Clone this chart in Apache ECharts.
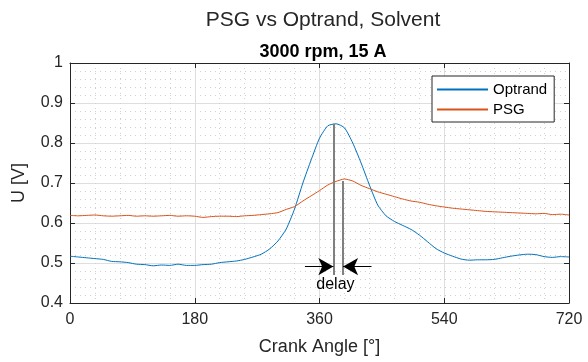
<!DOCTYPE html>
<html>
<head>
<meta charset="utf-8">
<script src="https://cdn.jsdelivr.net/npm/echarts@6/dist/echarts.min.js"></script>
<style>
  html, body { margin: 0; padding: 0; background: #fff; }
  #chart { width: 588px; height: 362px; }
</style>
</head>
<body>
<div id="chart"></div>
<script>
// crank angle, step 12 deg
const angles = []
for (let a = 0; a <= 720; a += 12) angles.push(a)

const optrand = [
  0.517, 0.515, 0.513, 0.511, 0.509, 0.504, 0.503, 0.501, 0.497, 0.496,
  0.493, 0.495, 0.494, 0.497, 0.494, 0.494, 0.496, 0.497, 0.501, 0.503,
  0.505, 0.509, 0.515, 0.522, 0.535, 0.555, 0.585, 0.635, 0.700, 0.758,
  0.812, 0.843, 0.848, 0.838, 0.800, 0.750, 0.695, 0.645, 0.618, 0.604,
  0.594, 0.584, 0.570, 0.553, 0.536, 0.525, 0.517, 0.510, 0.507, 0.508,
  0.508, 0.509, 0.513, 0.517, 0.520, 0.522, 0.521, 0.516, 0.514, 0.516,
  0.515
]

const psg = [
  0.619, 0.618, 0.619, 0.620, 0.618, 0.617, 0.618, 0.619, 0.617, 0.618,
  0.617, 0.618, 0.619, 0.617, 0.618, 0.617, 0.614, 0.616, 0.617, 0.617,
  0.616, 0.618, 0.619, 0.621, 0.623, 0.626, 0.634, 0.641, 0.655, 0.668,
  0.681, 0.695, 0.704, 0.710, 0.705, 0.694, 0.686, 0.678, 0.672, 0.666,
  0.660, 0.655, 0.652, 0.647, 0.643, 0.640, 0.637, 0.635, 0.633, 0.631,
  0.629, 0.628, 0.627, 0.626, 0.625, 0.624, 0.623, 0.624, 0.621, 0.622,
  0.620
]

// delay annotation (data coords)
const peakOpt = 380, peakPsg = 394
const optTop = 0.848, psgTop = 0.705, annotBottom = 0.47
const arrowY = 0.491, arrowLeft = 339, arrowRight = 435
const delayLabel = [383, 0.445]

const chart = echarts.init(document.getElementById('chart'))
const font = 'Liberation Sans, Arial, sans-serif'
const axisColor = '#262626'

function makeX(pos, main) {
  return {
    type: 'value', position: pos, min: 0, max: 720, interval: 180,
    axisLine: { show: true, onZero: false, lineStyle: { color: axisColor, width: 1 } },
    axisTick: { show: true, inside: true, length: 5, lineStyle: { color: axisColor } },
    axisLabel: { show: main, color: axisColor, fontSize: 16, fontFamily: font, margin: 9 },
    splitLine: { show: main, lineStyle: { color: '#dedede', width: 1 } },
    minorTick: { show: false, splitNumber: 5 },
    minorSplitLine: { show: main, lineStyle: { color: '#d0d0d0', type: [1, 4], width: 1 } },
    name: main ? 'Crank Angle [°]' : '',
    nameLocation: 'middle', nameGap: 35,
    nameTextStyle: { color: axisColor, fontSize: 18, fontFamily: font }
  }
}

function makeY(pos, main) {
  return {
    type: 'value', position: pos, min: 0.4, max: 1, interval: 0.1,
    axisLine: { show: true, onZero: false, lineStyle: { color: axisColor, width: 1 } },
    axisTick: { show: true, inside: true, length: 5, lineStyle: { color: axisColor } },
    axisLabel: {
      show: main, color: axisColor, fontSize: 16, fontFamily: font, margin: 7,
      formatter: v => String(+v.toFixed(1))
    },
    splitLine: { show: main, lineStyle: { color: '#dedede', width: 1 } },
    minorTick: { show: false, splitNumber: 5 },
    minorSplitLine: { show: main, lineStyle: { color: '#d0d0d0', type: [1, 4], width: 1 } },
    name: main ? 'U [V]' : '',
    nameLocation: 'middle', nameGap: 42, nameRotate: 90,
    nameTextStyle: { color: axisColor, fontSize: 18, fontFamily: font }
  }
}

const vline = (x, y0, y1) => [{ coord: [x, y0] }, { coord: [x, y1] }]
const hline = (x0, x1, y) => [{ coord: [x0, y] }, { coord: [x1, y] }]

const option = {
  animation: false,
  backgroundColor: '#fff',
  textStyle: { fontFamily: font },
  title: [
    { text: 'PSG vs Optrand, Solvent', left: 318, top: 5, textAlign: 'center',
      textStyle: { fontSize: 21, fontWeight: 'normal', color: axisColor, fontFamily: font } },
    { text: '3000 rpm, 15 A', left: 318, top: 38, textAlign: 'center',
      textStyle: { fontSize: 18, fontWeight: 'bold', color: '#000', fontFamily: font } }
  ],
  grid: { left: 70, right: 19, top: 63, bottom: 59, containLabel: false },
  legend: {
    data: ['Optrand', 'PSG'],
    orient: 'vertical', left: 432, top: 76,
    itemWidth: 51, itemHeight: 2, itemGap: 5, icon: 'rect',
    backgroundColor: '#fff', borderColor: axisColor, borderWidth: 1,
    padding: [6, 7, 5, 5],
    textStyle: { fontSize: 15, color: '#000', fontFamily: font }
  },
  xAxis: [makeX('bottom', true), makeX('top', false)],
  yAxis: [makeY('left', true), makeY('right', false)],
  series: [
    {
      name: 'Optrand', type: 'line', showSymbol: false, smooth: 0.2,
      data: angles.map((a, i) => [a, optrand[i]]),
      itemStyle: { color: '#0072BD' },
      lineStyle: { color: '#0072BD', width: 1 }
    },
    {
      name: 'PSG', type: 'line', showSymbol: false, smooth: 0.2,
      data: angles.map((a, i) => [a, psg[i]]),
      itemStyle: { color: '#D95319' },
      lineStyle: { color: '#D95319', width: 1 }
    },
    {
      name: 'annot', type: 'line', data: [], silent: true,
      markLine: {
        silent: true, symbol: ['none', 'none'], label: { show: false },
        lineStyle: { color: '#808080', width: 2, type: 'solid' },
        data: [vline(peakOpt, optTop, annotBottom), vline(peakPsg, psgTop, annotBottom)]
      }
    },
    {
      name: 'arrows', type: 'line', data: [], silent: true,
      markLine: {
        silent: true, symbol: ['none', 'arrow'], symbolSize: [13, 15], label: { show: false },
        lineStyle: { color: '#000', width: 1, type: 'solid' },
        data: [hline(arrowLeft, peakOpt, arrowY), hline(arrowRight, peakPsg, arrowY)]
      },
      markPoint: {
        silent: true, symbol: 'circle', symbolSize: 0,
        label: { show: true, formatter: 'delay', position: 'inside', color: '#000', fontSize: 16, fontFamily: font },
        data: [{ coord: delayLabel }]
      }
    }
  ]
}

chart.setOption(option)
</script>
</body>
</html>
